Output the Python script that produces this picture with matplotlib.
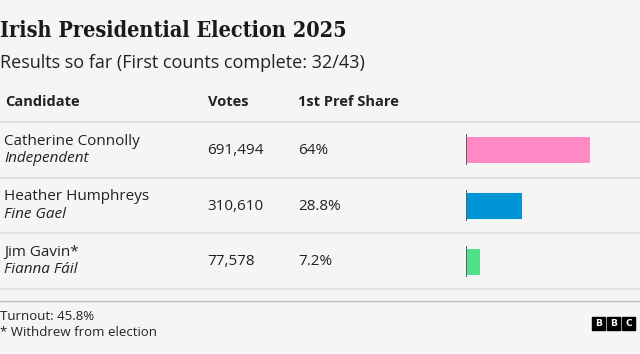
import matplotlib.pyplot as plt

# Data
candidates = ["Catherine Connolly", "Heather Humphreys", "Jim Gavin*"]
parties = ["Independent", "Fine Gael", "Fianna Fáil"]
votes = [691494, 310610, 77578]
shares = [64, 28.8, 7.2]
share_labels = ["64%", "28.8%", "7.2%"]
colors = ["#ff89c4", "#0096d6", "#50e08a"]

W, H = 640, 354
BG = "#f5f5f5"
TXT = "#222222"
SANS = ["Open Sans", "DejaVu Sans"]

fig = plt.figure(figsize=(W / 100, H / 100), dpi=100, facecolor=BG)


def fy(y):
    return 1 - y / H


def txt(x, y, s, **kw):
    kw.setdefault("family", SANS)
    kw.setdefault("color", TXT)
    kw.setdefault("va", "center")
    fig.text(x / W, fy(y), s, **kw)


def hline(y, color="#dddddd", lw=1.2):
    fig.add_artist(plt.Line2D([0, 1], [fy(y), fy(y)], color=color, lw=lw))


# title block
txt(0, 31, "Irish Presidential Election 2025", family=["DejaVu Serif"],
    fontsize=15.5, weight="bold", fontstretch="condensed", color="#1a1a1a")
txt(0, 63, "Results so far (First counts complete: 32/43)", fontsize=13)

# header
txt(5, 102, "Candidate", fontsize=10.5, weight="bold")
txt(208, 102, "Votes", fontsize=10.5, weight="bold")
txt(298, 102, "1st Pref Share", fontsize=10.5, weight="bold")

row_top = 122
row_h = (289 - 122) / 3
for i in range(4):
    hline(row_top + i * row_h)
hline(301, color="#bbbbbb", lw=1.0)

for i, (c, p, v, s) in enumerate(zip(candidates, parties, votes, share_labels)):
    cy = row_top + (i + 0.5) * row_h
    txt(4, cy - 8.5, c, fontsize=11)
    txt(4, cy + 8.5, p, fontsize=11, style="italic")
    txt(207, cy + 0.5, f"{v:,}", fontsize=11)
    txt(298, cy + 0.5, s, fontsize=11)

# bars
ax = fig.add_axes([466 / W, fy(289), 1 - 466 / W, (289 - 122) / H])
ax.set_facecolor("none")
ypos = list(range(len(shares)))
ax.barh(ypos, shares, height=0.49, color=colors, edgecolor="white", linewidth=0.6)
ax.set_xlim(0, 89.7)
ax.set_ylim(len(shares) - 0.5, -0.5)
for y in ypos:
    ax.plot([0, 0], [y - 0.28, y + 0.28], color="#444444", lw=1.2,
            solid_capstyle="butt")
ax.axis("off")

# footer
txt(0, 317, "Turnout: 45.8%", fontsize=9.5)
txt(0, 332, "* Withdrew from election", fontsize=9.5)

# BBC blocks
for k, letter in enumerate("BBC"):
    x0 = 592 + k * 15
    fig.add_artist(plt.Rectangle((x0 / W, fy(330)), 13 / W, 13 / H,
                                 color="black"))
    txt(x0 + 6.5, 323.5, letter, fontsize=6.5, weight="bold", color="white",
        ha="center", family=["DejaVu Sans"])

fig.savefig("out.png", dpi=100, facecolor=BG)
